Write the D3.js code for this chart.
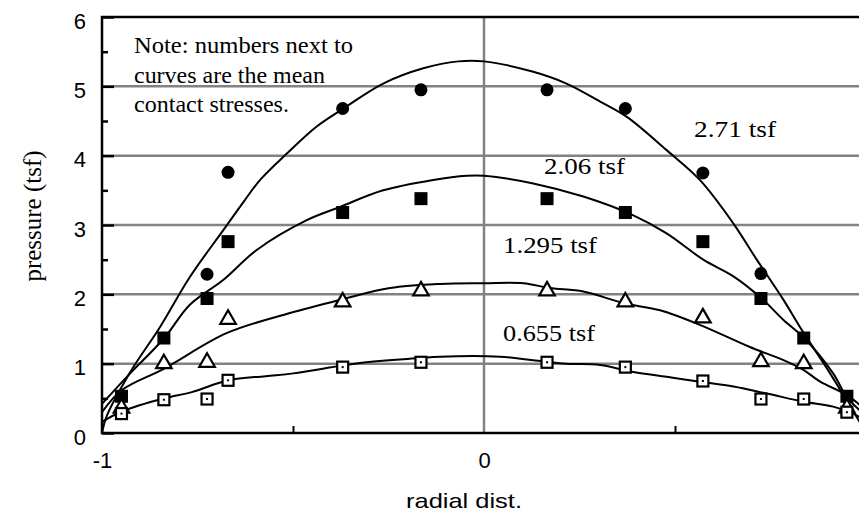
<!DOCTYPE html>
<html>
<head>
  <meta charset="utf-8">
  <script src="https://d3js.org/d3.v7.min.js"></script>
  <style>
    body { margin:0; background:#fff; }
    svg { display:block; }
    .serif { font-family: "Liberation Serif", "Times New Roman", serif; }
    .sans { font-family: "Liberation Sans", Arial, sans-serif; }
  </style>
</head>
<body>
<script>
  const width = 859;
  const height = 515;

  // radial positions of the pressure cells
  const xAll = [-0.949, -0.838, -0.725, -0.670, -0.370, -0.165, 0.165, 0.370, 0.573, 0.725, 0.837, 0.950];
  const xCircle = [-0.725, -0.670, -0.370, -0.165, 0.165, 0.370, 0.573, 0.725];

  // measured pressures (tsf) for each mean contact stress
  const p271 = [2.29, 3.76, 4.68, 4.95, 4.95, 4.68, 3.75, 2.30];
  const p206 = [0.53, 1.37, 1.94, 2.76, 3.18, 3.38, 3.38, 3.18, 2.76, 1.94, 1.37, 0.53];
  const p1295 = [0.36, 1.00, 1.02, 1.64, 1.89, 2.05, 2.05, 1.89, 1.66, 1.03, 1.00, 0.36];
  const p0655 = [0.28, 0.48, 0.49, 0.76, 0.95, 1.02, 1.02, 0.95, 0.75, 0.49, 0.49, 0.30];

  // fitted curves as [x, pressure]
  const fit271 = [[-1, 0], [-0.988, 0.24], [-0.927, 0.87], [-0.848, 1.53], [-0.770, 2.25], [-0.682, 2.93],
    [-0.626, 3.36], [-0.586, 3.65], [-0.516, 4.03], [-0.438, 4.42], [-0.368, 4.68], [-0.264, 5.04],
    [-0.159, 5.26], [-0.067, 5.36], [0, 5.36], [0.129, 5.21], [0.216, 5.04], [0.304, 4.78], [0.374, 4.56],
    [0.478, 4.08], [0.565, 3.65], [0.653, 3.02], [0.714, 2.50], [0.784, 1.92], [0.827, 1.53],
    [0.906, 0.86], [0.980, 0.19], [1, 0]];
  const fit206 = [[-1, 0.42], [-0.935, 0.81], [-0.837, 1.37], [-0.770, 1.85], [-0.682, 2.21], [-0.595, 2.64],
    [-0.464, 3.07], [-0.377, 3.26], [-0.264, 3.50], [-0.133, 3.65], [-0.045, 3.71], [0, 3.71],
    [0.129, 3.60], [0.260, 3.41], [0.391, 3.14], [0.478, 2.88], [0.574, 2.50], [0.653, 2.26],
    [0.727, 1.94], [0.784, 1.63], [0.838, 1.37], [0.914, 0.86], [0.951, 0.51], [1, 0.25]];
  const fit1295 = [[-1, 0.30], [-0.948, 0.62], [-0.837, 0.93], [-0.674, 1.44], [-0.508, 1.73], [-0.377, 1.92],
    [-0.246, 2.09], [-0.115, 2.15], [0, 2.16], [0.103, 2.16], [0.173, 2.09], [0.260, 2.04],
    [0.367, 1.87], [0.461, 1.77], [0.565, 1.56], [0.696, 1.24], [0.784, 1.05], [0.836, 0.91],
    [0.880, 0.74], [0.949, 0.55], [1, 0.33]];
  const fit0655 = [[-1, 0.16], [-0.948, 0.31], [-0.837, 0.50], [-0.765, 0.59], [-0.669, 0.76], [-0.572, 0.82],
    [-0.499, 0.86], [-0.325, 1.01], [-0.168, 1.08], [-0.115, 1.10], [0.042, 1.10], [0.129, 1.05],
    [0.216, 1.00], [0.304, 0.98], [0.391, 0.88], [0.478, 0.81], [0.565, 0.74], [0.653, 0.67],
    [0.740, 0.57], [0.838, 0.45], [0.914, 0.38], [0.980, 0.24], [1, 0.15]];

  const yTicks = [0, 1, 2, 3, 4, 5, 6];
  const yMinor = [0.5, 1.5, 2.5, 3.5, 4.5, 5.5];
  const xTicks = [-1, 0];
  const xMinor = [-0.5, 0.5];
  const stressLabels = ["2.71 tsf", "2.06 tsf", "1.295 tsf", "0.655 tsf"];
  const noteLines = ["Note:  numbers next to", "curves are the mean", "contact stresses."];

  const svg = d3.select("body").append("svg")
    .attr("width", width)
    .attr("height", height);

  const x = d3.scaleLinear().domain([-1, 1]).range([102, 866]);
  const y = d3.scaleLinear().domain([0, 6]).range([433, 17]);

  // gridlines
  svg.append("g").selectAll("line").data([1, 2, 3, 4, 5]).enter().append("line")
    .attr("x1", x(-1)).attr("x2", x(1))
    .attr("y1", d => y(d)).attr("y2", d => y(d))
    .attr("stroke", "#828282").attr("stroke-width", 2.5);
  svg.append("line")
    .attr("x1", x(0)).attr("x2", x(0)).attr("y1", y(0)).attr("y2", y(6))
    .attr("stroke", "#828282").attr("stroke-width", 2.5);

  // y axis, ticks inside
  const yAxis = svg.append("g")
    .attr("transform", `translate(${x(-1)},0)`)
    .call(d3.axisLeft(y).tickValues(yTicks).tickSize(-12).tickPadding(16).tickFormat(d => String(d)));
  yAxis.select(".domain").remove();
  yAxis.selectAll("line").attr("stroke-width", 2.5);
  yAxis.selectAll("text").attr("class", "sans").attr("font-size", 22).attr("dy", "0.5em").attr("fill", "#000");

  const yMinorAxis = svg.append("g")
    .attr("transform", `translate(${x(-1)},0)`)
    .call(d3.axisLeft(y).tickValues(yMinor).tickSize(-6).tickFormat(""));
  yMinorAxis.select(".domain").remove();
  yMinorAxis.selectAll("line").attr("stroke-width", 2.5);

  // x axis
  const xAxis = svg.append("g")
    .attr("transform", `translate(0,${y(0)})`)
    .call(d3.axisBottom(x).tickValues(xTicks).tickSize(0).tickPadding(19).tickFormat(d => String(d)));
  xAxis.select(".domain").remove();
  xAxis.selectAll("text").attr("class", "sans").attr("font-size", 22).attr("fill", "#000");

  const xMinorAxis = svg.append("g")
    .attr("transform", `translate(0,${y(0)})`)
    .call(d3.axisBottom(x).tickValues(xMinor).tickSize(-7).tickFormat(""));
  xMinorAxis.select(".domain").remove();
  xMinorAxis.selectAll("line").attr("stroke-width", 2);

  // plot frame
  svg.append("rect")
    .attr("x", x(-1)).attr("y", y(6))
    .attr("width", x(1) - x(-1)).attr("height", y(0) - y(6))
    .attr("fill", "none").attr("stroke", "#000").attr("stroke-width", 2.5);

  // fitted curves
  const line = d3.line().x(d => x(d[0])).y(d => y(d[1])).curve(d3.curveCatmullRom);
  svg.append("g").selectAll("path").data([fit271, fit206, fit1295, fit0655]).enter().append("path")
    .attr("d", line)
    .attr("fill", "none").attr("stroke", "#000").attr("stroke-width", 2);

  // markers
  svg.append("g").selectAll("circle").data(d3.zip(xCircle, p271)).enter().append("circle")
    .attr("cx", d => x(d[0])).attr("cy", d => y(d[1])).attr("r", 6.5).attr("fill", "#000");

  svg.append("g").selectAll("rect").data(d3.zip(xAll, p206)).enter().append("rect")
    .attr("x", d => x(d[0]) - 6.5).attr("y", d => y(d[1]) - 6.5)
    .attr("width", 13).attr("height", 13).attr("fill", "#000");

  svg.append("g").selectAll("path").data(d3.zip(xAll, p1295)).enter().append("path")
    .attr("d", d3.symbol().type(d3.symbolTriangle).size(105))
    .attr("transform", d => `translate(${x(d[0])},${y(d[1])})`)
    .attr("fill", "#fff").attr("stroke", "#000").attr("stroke-width", 2.2);

  const openSq = svg.append("g").selectAll("g").data(d3.zip(xAll, p0655)).enter().append("g")
    .attr("transform", d => `translate(${x(d[0])},${y(d[1])})`);
  openSq.append("rect")
    .attr("x", -5.5).attr("y", -5.5).attr("width", 11).attr("height", 11)
    .attr("fill", "#fff").attr("stroke", "#000").attr("stroke-width", 2.2);
  openSq.append("rect")
    .attr("x", -1).attr("y", -1).attr("width", 2).attr("height", 2).attr("fill", "#000");

  // text helper: the original chart is slightly stretched horizontally
  function addText(cls, str, px, py, size, len, anchor) {
    const t = svg.append("text")
      .attr("class", cls)
      .attr("x", px).attr("y", py)
      .attr("font-size", size)
      .attr("text-anchor", anchor || "start")
      .attr("fill", "#000")
      .text(str);
    if (len) t.attr("textLength", len).attr("lengthAdjust", "spacingAndGlyphs");
    return t;
  }

  // note
  addText("serif", noteLines[0], 134, 53, 23, 219);
  addText("serif", noteLines[1], 134, 83, 23, 191);
  addText("serif", noteLines[2], 134, 112, 23, 155);

  // curve labels
  addText("serif", stressLabels[0], 694, 137, 23, 82);
  addText("serif", stressLabels[1], 544, 174, 23, 81);
  addText("serif", stressLabels[2], 503, 253, 23, 94);
  addText("serif", stressLabels[3], 503, 341, 23, 92);

  // axis titles
  addText("sans", "radial dist.", 464, 508, 21, 116, "middle");
  svg.append("text")
    .attr("class", "serif")
    .attr("transform", "translate(41,216) rotate(-90)")
    .attr("text-anchor", "middle")
    .attr("font-size", 25)
    .attr("fill", "#000")
    .text("pressure (tsf)");
</script>
</body>
</html>
